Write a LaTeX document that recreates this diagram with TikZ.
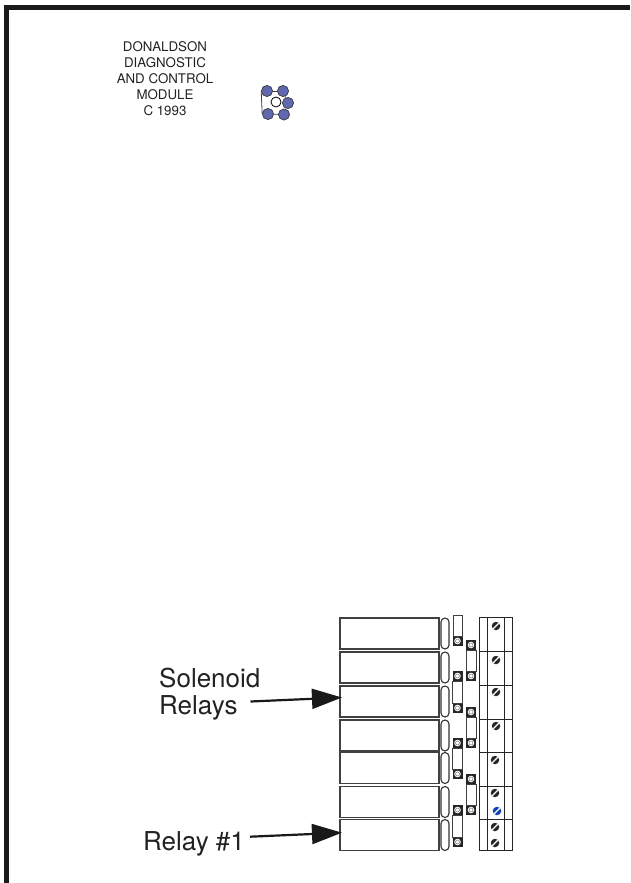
\documentclass[tikz,border=0pt]{standalone}
\usepackage{fontspec}
\setmainfont{TeX Gyre Heros}
\usetikzlibrary{arrows.meta}
\definecolor{framegray}{HTML}{1A1A1A}
\definecolor{textgray}{HTML}{222222}
\definecolor{ledblue}{HTML}{6068B0}
\definecolor{screwblue}{HTML}{1040B0}
\tikzset{relaybox/.style={
    draw=black!75,
    line width=1.1pt,
    minimum width=99pt,
    minimum height=31pt,
    inner sep=0pt}}
\tikzset{oval/.style={
    draw=black!80,
    line width=1.1pt,
    rounded corners=4pt,
    minimum width=8pt,
    minimum height=31pt,
    inner sep=0pt}}
\tikzset{contact/.style={
    draw=black!85,
    fill=black!85,
    line width=0.8pt,
    minimum size=9pt,
    inner sep=0pt,
    path picture={\fill[white] (path picture bounding box.center) circle (3.3pt);
        \draw[black!55,line width=0.5pt] (path picture bounding box.center) circle (2pt);}}}
\tikzset{screw/.style={
    circle,
    fill=black!85,
    minimum size=8.5pt,
    inner sep=0pt,
    path picture={\draw[white,line width=1.1pt] (path picture bounding box.south west) -- (path picture bounding box.north east);}}}
\tikzset{led/.style={
    circle,
    draw=black!75,
    fill=ledblue,
    line width=0.6pt,
    minimum size=11pt,
    inner sep=0pt}}
\tikzset{pointer/.style={
    draw=black!90,
    line width=2.2pt,
    -{Triangle[length=30pt,width=20pt]}}}

\begin{document}
\begin{tikzpicture}[x=1pt,y=-1pt,text=textgray]
	\useasboundingbox (0,0) rectangle (630,883);
\path[draw=framegray, line width=5pt] (6.5,883) -- (6.5,7.5) -- (630,7.5);

% module text and lamp
\node[align=center, font=\fontsize{13.3}{16}\selectfont] (title) at (165,79) {DONALDSON\\DIAGNOSTIC\\AND CONTROL\\MODULE\\C 1993};
\node[led] (l1) at (267,91) {};
\node[led] (l2) at (283,91) {};
\node[led] (l3) at (288,103) {};
\node[led] (l4) at (268,114) {};
\node[led] (l5) at (284,114.5) {};
\node[draw=black, circle, line width=0.8pt, minimum size=10pt, inner sep=0pt] (lamp) at (276,102) {};
\path[draw=black!75, line width=0.8pt] (l1) -- (l2);
\path[draw=black!75, line width=0.8pt] (l4) -- (l5);
\path[draw=black!75, line width=0.8pt] (l1.west) -- (l4.west);
\path[draw=black!75, line width=0.8pt] (l2) -- (l3) -- (l5);
\node[led] at (l1) {};
\node[led] at (l2) {};
\node[led] at (l3) {};
\node[led] at (l4) {};
\node[led] at (l5) {};

% relays
\node[relaybox] (r1) at (389.5,633.5) {};
\node[relaybox] (r2) at (389.5,667.5) {};
\node[relaybox] (r3) at (389.5,701.5) {};
\node[relaybox] (r4) at (389.5,735.5) {};
\node[relaybox] (r5) at (389.5,768) {};
\node[relaybox] (r6) at (389.5,802) {};
\node[relaybox] (r7) at (389.5,835) {};

\node[oval] (o1) at (445,633.5) {};
\node[oval] (o2) at (445,667.5) {};
\node[oval] (o3) at (445,701.5) {};
\node[oval] (o4) at (445,735.5) {};
\node[oval] (o5) at (445,768) {};
\node[oval] (o6) at (445,802) {};
\node[oval] (o7) at (445,835) {};

% contacts and links
\coordinate (T) at (453,615);
\node[contact] (a1) at (457.5,641) {};
\node[contact] (a2) at (457.5,676) {};
\node[contact] (a3) at (457.5,708) {};
\node[contact] (a4) at (457.5,743) {};
\node[contact] (a5) at (457.5,774) {};
\node[contact] (a6) at (457.5,810) {};
\node[contact] (a7) at (457.5,842) {};
\node[contact] (b1) at (471,645) {};
\node[contact] (b2) at (471,676) {};
\node[contact] (b3) at (471,712) {};
\node[contact] (b4) at (471,743) {};
\node[contact] (b5) at (471,779) {};
\node[contact] (b6) at (471,810) {};
\path[draw=black!75] (T) rectangle (a1.north east);
\path[draw=black!75] (a2.south west) rectangle (a3.north east);
\path[draw=black!75] (a4.south west) rectangle (a5.north east);
\path[draw=black!75] (a6.south west) rectangle (a7.north east);
\path[draw=black!75] (b1.south west) rectangle (b2.north east);
\path[draw=black!75] (b3.south west) rectangle (b4.north east);
\path[draw=black!75] (b5.south west) rectangle (b6.north east);

% terminal strip
\coordinate (P) at (479,617);
\coordinate (Q) at (512,850);
\path[draw=black!85, line width=0.9pt] (P) rectangle (Q);
\path[draw=black!85, line width=0.9pt] (487,617) -- (487,850);
\path[draw=black!85, line width=0.9pt] (504,617) -- (504,850);
\path[draw=black!85, line width=0.9pt] (479,651) -- (512,651);
\path[draw=black!85, line width=0.9pt] (479,685) -- (512,685);
\path[draw=black!85, line width=0.9pt] (479,719) -- (512,719);
\path[draw=black!85, line width=0.9pt] (479,752) -- (512,752);
\path[draw=black!85, line width=0.9pt] (479,786) -- (512,786);
\path[draw=black!85, line width=0.9pt] (479,819) -- (512,819);
\node[screw] (s1) at (496,626) {};
\node[screw] (s2) at (496,660) {};
\node[screw] (s3) at (496,692) {};
\node[screw] (s4) at (496,726) {};
\node[screw] (s5) at (495,760) {};
\node[screw] (s6) at (495,793) {};
\node[screw, fill=screwblue] (s7) at (497,811) {};
\node[screw] (s8) at (495,827) {};
\node[screw] (s9) at (495,843) {};

% labels
\node[align=left, anchor=north west, inner sep=0pt, font=\fontsize{26}{26.5}\selectfont] (sol) at (159,668) {Solenoid\\Relays};
\node[anchor=west, inner sep=0pt, font=\fontsize{26}{27}\selectfont] (rel) at (143,844) {Relay \#1};
\coordinate (solstart) at (250.5,701.5);
\coordinate (relstart) at (250,836.7);
\path[pointer] (solstart) -- ([xshift=2.5pt,yshift=4pt]r3.west);
\path[pointer] (relstart) -- ([xshift=2.5pt,yshift=2.3pt]r7.west);

\end{tikzpicture}
\end{document}
